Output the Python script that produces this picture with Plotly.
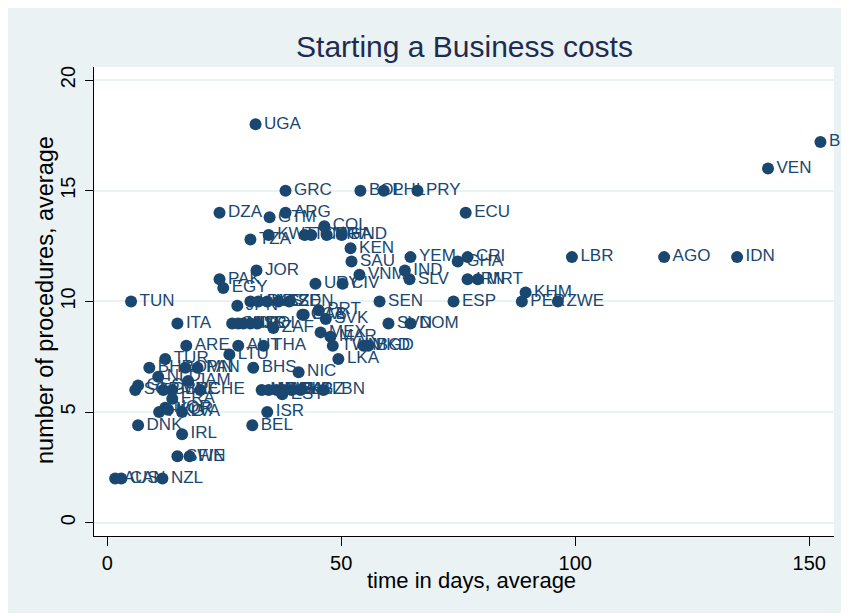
import plotly.graph_objects as go

countries = [
    "UGA", "BRA", "VEN", "GRC", "BOL", "PHL", "PRY", "ECU", "DZA", "ARG",
    "GTM", "COL", "TZA", "KWT", "TCD", "CMR", "NGA", "HND", "KEN", "SAU",
    "YEM", "CRI", "GHA", "LBR", "AGO", "IDN", "IND", "VNM", "SLV", "IRN",
    "MRT", "JOR", "PAK", "EGY", "URY", "CIV", "KHM", "SEN", "ESP", "PER",
    "ZWE", "TUN", "JPN", "UKR", "RUS", "KAZ", "CZE", "SDN", "GAB", "PRT",
    "SVK", "MEX", "MAR", "TWN", "MKD", "BGD", "LKA", "NIC", "ITA", "CHN",
    "MUS", "SYR", "ISL", "POL", "ZAF", "SVN", "DOM", "ARE", "AUT", "THA",
    "LTU", "TUR", "BHS", "BHR", "OMN", "PAN", "NLD", "JAM", "SGP", "GEO",
    "GBR", "MNE", "CHE", "FRA", "NOR", "HKG", "KOR", "LVA", "DNK", "IRL",
    "SWE", "FIN", "AUS", "CAN", "NZL", "MDA", "MYS", "BWA", "NAM", "BLR",
    "KGZ", "LBN", "EST", "ISR", "BEL", "LCA",
]
days = [
    31.7, 152.4, 141.2, 38.1, 54.1, 59.1, 66.3, 76.6, 24.0, 38.1,
    34.7, 46.4, 30.6, 34.5, 42.2, 43.6, 46.9, 50.1, 52.0, 52.2,
    64.8, 77.0, 74.9, 99.3, 119.0, 134.6, 63.6, 53.9, 64.6, 77.0,
    79.2, 31.9, 24.0, 24.8, 44.5, 50.3, 89.4, 58.2, 74.0, 88.6,
    96.3, 5.1, 27.8, 30.6, 32.3, 34.2, 36.6, 38.9, 41.7, 45.2,
    46.7, 45.6, 47.7, 48.2, 54.8, 55.8, 49.4, 40.9, 15.0, 26.7,
    28.0, 29.1, 30.6, 32.1, 35.5, 60.1, 64.8, 16.9, 28.0, 33.4,
    26.1, 12.4, 31.2, 9.0, 16.7, 19.3, 10.9, 17.3, 6.0, 6.6,
    12.0, 13.9, 19.9, 13.9, 12.4, 11.1, 13.0, 16.0, 6.6, 16.0,
    15.0, 17.6, 1.7, 3.0, 11.8, 33.0, 34.5, 36.2, 37.7, 39.4,
    41.3, 46.2, 37.4, 34.2, 31.0, 42.0,
]
procedures = [
    18.0, 17.2, 16.0, 15.0, 15.0, 15.0, 15.0, 14.0, 14.0, 14.0,
    13.8, 13.4, 12.8, 13.0, 13.0, 13.0, 13.0, 13.0, 12.4, 11.8,
    12.0, 12.0, 11.8, 12.0, 12.0, 12.0, 11.4, 11.2, 11.0, 11.0,
    11.0, 11.4, 11.0, 10.6, 10.8, 10.8, 10.4, 10.0, 10.0, 10.0,
    10.0, 10.0, 9.8, 10.0, 10.0, 10.0, 10.0, 10.0, 9.4, 9.6,
    9.2, 8.6, 8.4, 8.0, 8.0, 8.0, 7.4, 6.8, 9.0, 9.0,
    9.0, 9.0, 9.0, 9.0, 8.8, 9.0, 9.0, 8.0, 8.0, 8.0,
    7.6, 7.4, 7.0, 7.0, 7.0, 7.0, 6.6, 6.4, 6.0, 6.2,
    6.0, 6.0, 6.0, 5.6, 5.2, 5.0, 5.1, 5.0, 4.4, 4.0,
    3.0, 3.0, 2.0, 2.0, 2.0, 6.0, 6.0, 6.0, 6.0, 6.0,
    6.0, 6.0, 5.8, 5.0, 4.4, 9.4,
]
x_ticks = [0, 50, 100, 150]
y_ticks = [0, 5, 10, 15, 20]

navy = "#1a476f"
frame = "#eaf2f3"
font_family = "Liberation Sans, Arial, sans-serif"

fig = go.Figure(go.Scatter(
    x=days, y=procedures, mode="markers+text", text=countries,
    textposition="middle right",
    textfont=dict(family=font_family, size=17, color=navy),
    marker=dict(size=12, color=navy), cliponaxis=False, showlegend=False,
))

W, H = 841, 605
L, R, T, B = 86, 826, 59, 528
pw, ph = R - L, B - T

fig.update_layout(
    width=W, height=H,
    margin=dict(l=L, r=W - R, t=T, b=H - B, autoexpand=False),
    paper_bgcolor=frame, plot_bgcolor="white",
    font=dict(family=font_family, color="black"),
    title=dict(text="Starting a Business costs", x=456.5 / W, xanchor="center",
               y=1 - 38 / H, yanchor="middle",
               font=dict(size=30, color="#1e2c50")),
    xaxis=dict(range=[-2.82, 155.3], tickvals=x_ticks, automargin=False,
               showgrid=False, zeroline=False, showline=True, linecolor="black",
               linewidth=1, ticks="outside", ticklen=9, tickcolor="black",
               tickfont=dict(size=20)),
    yaxis=dict(range=[-0.60, 20.59], tickvals=y_ticks, automargin=False,
               showgrid=True, gridcolor=frame, gridwidth=2, zeroline=False,
               showline=True, linecolor="black", linewidth=1,
               ticks="outside", ticklen=8, tickcolor="black", tickangle=-90,
               tickfont=dict(size=20), ticklabelstandoff=2),
    annotations=[
        dict(text="time in days, average", xref="paper", yref="paper",
             x=(463.5 - L) / pw, y=(B - 572) / ph, xanchor="center", yanchor="middle",
             showarrow=False, font=dict(size=22, color="black")),
        dict(text="number of procedures, average", xref="paper", yref="paper",
             x=(37 - L) / pw, y=(B - 292) / ph, xanchor="center", yanchor="middle",
             textangle=-90, showarrow=False, font=dict(size=23.5, color="black")),
    ],
)

fig.write_html("out.html")
